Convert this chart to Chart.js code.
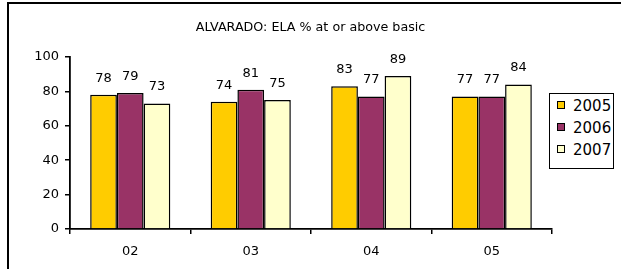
<!DOCTYPE html>
<html>
<head>
<meta charset="utf-8">
<script src="https://cdn.jsdelivr.net/npm/chart.js@4/dist/chart.umd.min.js"></script>
<style>
  html, body { margin: 0; padding: 0; background: #fff; }
  body { width: 621px; height: 269px; position: relative; overflow: hidden; font-family: "DejaVu Sans", sans-serif; }
  #frame { position: absolute; left: 7px; top: 2px; width: 640px; height: 300px; border-left: 2px solid #000; border-top: 2px solid #000; }
  #chart { position: absolute; left: 0; top: 0; }
  #title { position: absolute; left: 0; width: 621px; top: 19px; text-align: center; font-size: 12.7px; color: #000; }
  #legend { position: absolute; left: 549px; top: 93px; width: 63px; height: 74px; border: 1px solid #000; background: #fff; overflow: hidden; }
  .item { position: absolute; left: 7px; font-size: 15px; line-height: 16px; color: #000; white-space: nowrap; }
  .swatch { display: inline-block; width: 6px; height: 6px; border: 1px solid #000; margin-right: 8px; vertical-align: 2px; }
</style>
</head>
<body>
<div id="frame"></div>
<canvas id="chart" width="621" height="269"></canvas>
<div id="title">ALVARADO: ELA % at or above basic</div>
<div id="legend"></div>
<script>
document.addEventListener('DOMContentLoaded', function() {
  // Values
  const grades = ['02', '03', '04', '05'];
  const years = ['2005', '2006', '2007'];
  const scores2005 = [78, 74, 83, 77];
  const scores2006 = [79, 81, 77, 77];
  const scores2007 = [73, 75, 89, 84];
  const yTicks = [0, 20, 40, 60, 80, 100];

  const colors = ['#FFCC00', '#993366', '#FFFFCC'];
  const series = [scores2005, scores2006, scores2007];

  // Numbers above each bar
  const valueLabels = {
    id: 'valueLabels',
    afterDatasetsDraw(chart) {
      const ctx = chart.ctx;
      ctx.save();
      ctx.font = '13px "DejaVu Sans"';
      ctx.fillStyle = '#000';
      ctx.textAlign = 'center';
      ctx.textBaseline = 'bottom';
      chart.data.datasets.forEach((ds, i) => {
        chart.getDatasetMeta(i).data.forEach((bar, j) => {
          ctx.fillText(ds.data[j], bar.x, bar.y - 10);
        });
      });
      ctx.restore();
    }
  };

  // Legend in a boxed panel at the right
  const legend = document.getElementById('legend');
  years.forEach((y, i) => {
    const item = document.createElement('div');
    item.className = 'item';
    item.style.top = (4 + i * 22) + 'px';
    item.innerHTML = '<span class="swatch" style="background:' + colors[i] + '"></span>' + y;
    legend.appendChild(item);
  });

  const ctx = document.getElementById('chart').getContext('2d');
  new Chart(ctx, {
    type: 'bar',
    data: {
      labels: grades,
      datasets: years.map((y, i) => ({
        label: y,
        data: series[i],
        backgroundColor: colors[i],
        borderColor: '#000',
        borderWidth: 1.5,
        categoryPercentage: 0.665,
        barPercentage: 1
      }))
    },
    plugins: [valueLabels],
    options: {
      responsive: false,
      animation: false,
      layout: { padding: { top: 57, right: 69, bottom: 8, left: 0 } },
      scales: {
        x: {
          grid: { display: true, drawOnChartArea: false, tickLength: 5, color: '#000', lineWidth: 1.5, offset: true },
          border: { color: '#000', width: 1.8 },
          ticks: { color: '#000', font: { family: 'DejaVu Sans', size: 13 }, padding: 10 },
          afterFit(scale) { scale.height = 32; }
        },
        y: {
          min: 0,
          max: 100,
          afterBuildTicks(scale) { scale.ticks = yTicks.map(v => ({ value: v })); },
          grid: { display: true, drawOnChartArea: false, tickLength: 5, color: '#000', lineWidth: 1.5 },
          border: { color: '#000', width: 1.8 },
          ticks: { color: '#000', font: { family: 'DejaVu Sans', size: 13 }, padding: 6 },
          afterFit(scale) { scale.width = 70; }
        }
      },
      plugins: {
        legend: { display: false },
        title: { display: false },
        tooltip: { enabled: false }
      }
    }
  });
});
</script>
</body>
</html>
